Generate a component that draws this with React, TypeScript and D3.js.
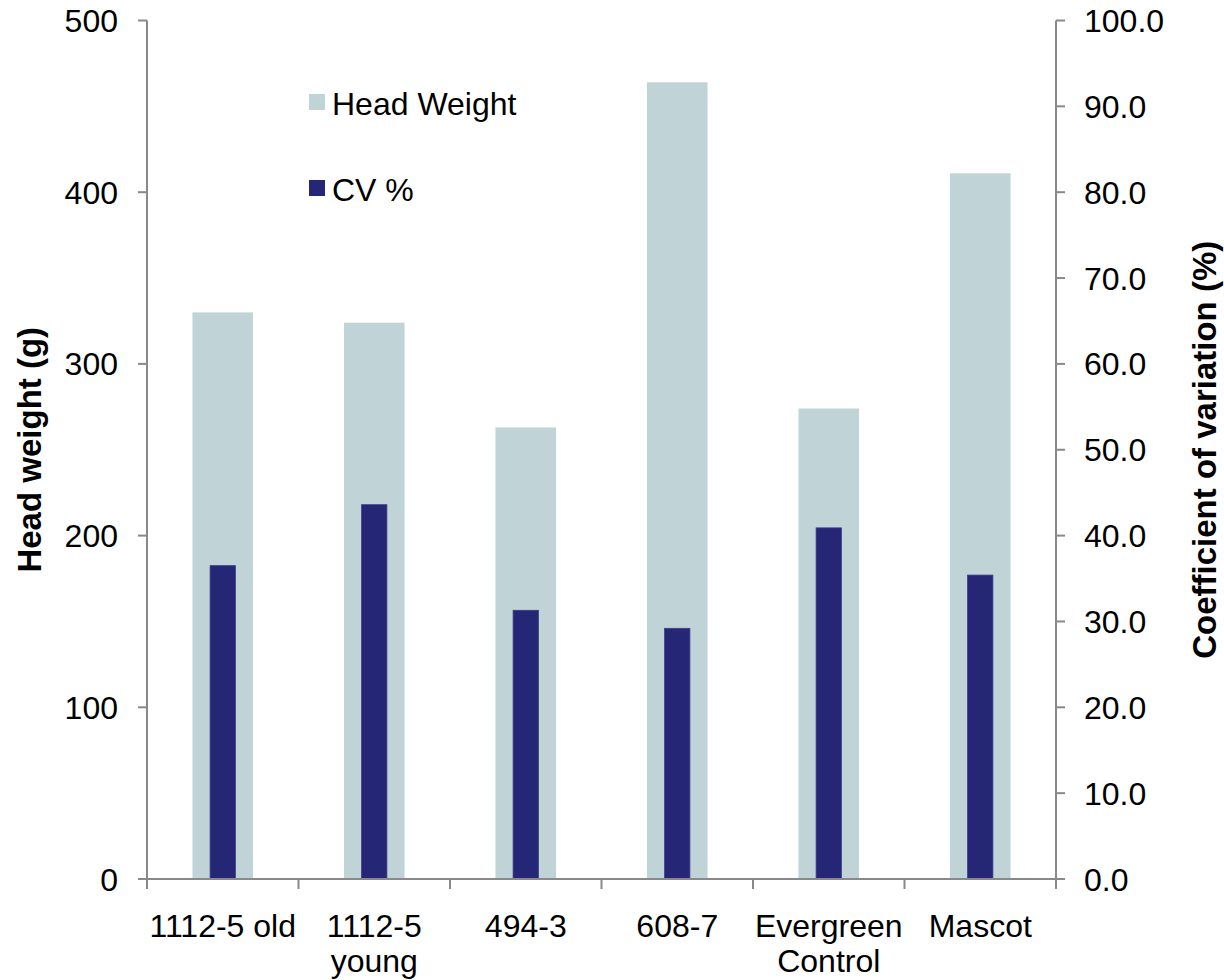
import React from "react";
import * as d3 from "d3";

const categories = ["1112-5 old", "1112-5 young", "494-3", "608-7", "Evergreen Control", "Mascot"];
const categoryLines = [["1112-5 old"], ["1112-5", "young"], ["494-3"], ["608-7"], ["Evergreen", "Control"], ["Mascot"]];
const headWeight = [330, 324, 263, 464, 274, 411];
const cvPercent = [36.5, 43.6, 31.3, 29.2, 40.9, 35.4];
const leftTicks = [0, 100, 200, 300, 400, 500];
const rightTicks = [0, 10, 20, 30, 40, 50, 60, 70, 80, 90, 100];

const W = 1224;
const H = 980;
const left = 147;
const right = 1056;
const top = 20.5;
const bottom = 879;
const FONT = "'Liberation Sans', Arial, sans-serif";
const AXIS = "#898989";
const LIGHT = "#C0D3D6";
const DARK = "#262677";

export default function App() {
  const x = d3.scaleBand<string>().domain(categories).range([left, right]).padding(0);
  const yL = d3.scaleLinear().domain([0, 500]).range([bottom, top]);
  const yR = d3.scaleLinear().domain([0, 100]).range([bottom, top]);
  const bw = x.bandwidth();
  const lightW = bw * 0.4;
  const darkW = bw * 0.167;
  const fs = 32;

  return (
    <svg width={W} height={H} style={{ position: "absolute", left: 0, top: 0, background: "#fff" }} fontFamily={FONT}>
      <rect x={0} y={0} width={W} height={H} fill="#fff" />
      {categories.map((c, i) => {
        const cx = (x(c) as number) + bw / 2;
        return (
          <g key={c}>
            <rect x={cx - lightW / 2} y={yL(headWeight[i])} width={lightW} height={bottom - yL(headWeight[i])} fill={LIGHT} />
            <rect x={cx - darkW / 2} y={yR(cvPercent[i])} width={darkW} height={bottom - yR(cvPercent[i])} fill={DARK} stroke="#3c3c88" strokeWidth={0.8} />
          </g>
        );
      })}
      <line x1={left} x2={left} y1={top} y2={bottom} stroke={AXIS} strokeWidth={2} />
      <line x1={right} x2={right} y1={top} y2={bottom} stroke={AXIS} strokeWidth={2} />
      <line x1={left} x2={right} y1={bottom} y2={bottom} stroke={AXIS} strokeWidth={2} />
      {leftTicks.map((t) => (
        <g key={"l" + t}>
          <line x1={left - 9} x2={left} y1={yL(t)} y2={yL(t)} stroke={AXIS} strokeWidth={2} />
          <text x={118} y={yL(t)} dy="0.36em" textAnchor="end" fontSize={fs}>{t}</text>
        </g>
      ))}
      {rightTicks.map((t) => (
        <g key={"r" + t}>
          <line x1={right} x2={right + 9} y1={yR(t)} y2={yR(t)} stroke={AXIS} strokeWidth={2} />
          <text x={1084} y={yR(t)} dy="0.36em" textAnchor="start" fontSize={fs}>{t.toFixed(1)}</text>
        </g>
      ))}
      {categories.map((c) => (
        <line key={"t" + c} x1={x(c) as number} x2={x(c) as number} y1={bottom} y2={bottom + 10} stroke={AXIS} strokeWidth={2} />
      ))}
      <line x1={right} x2={right} y1={bottom} y2={bottom + 10} stroke={AXIS} strokeWidth={2} />
      {categories.map((c, i) => {
        const cx = (x(c) as number) + bw / 2;
        return (
          <text key={"x" + c} x={cx} y={937} textAnchor="middle" fontSize={fs}>
            {categoryLines[i].map((ln, j) => (
              <tspan key={j} x={cx} dy={j === 0 ? 0 : 35}>{ln}</tspan>
            ))}
          </text>
        );
      })}
      <text transform={`translate(41, ${(top + bottom) / 2}) rotate(-90)`} textAnchor="middle" fontSize={33} fontWeight="bold">Head weight (g)</text>
      <text transform={`translate(1216, ${(top + bottom) / 2}) rotate(-90)`} textAnchor="middle" fontSize={33} fontWeight="bold">Coefficient of variation (%)</text>
      <rect x={309} y={94} width={16} height={16} fill={LIGHT} />
      <text x={332} y={115} fontSize={fs}>Head Weight</text>
      <rect x={309} y={180} width={16} height={16} fill={DARK} />
      <text x={332} y={201} fontSize={fs}>CV %</text>
    </svg>
  );
}
